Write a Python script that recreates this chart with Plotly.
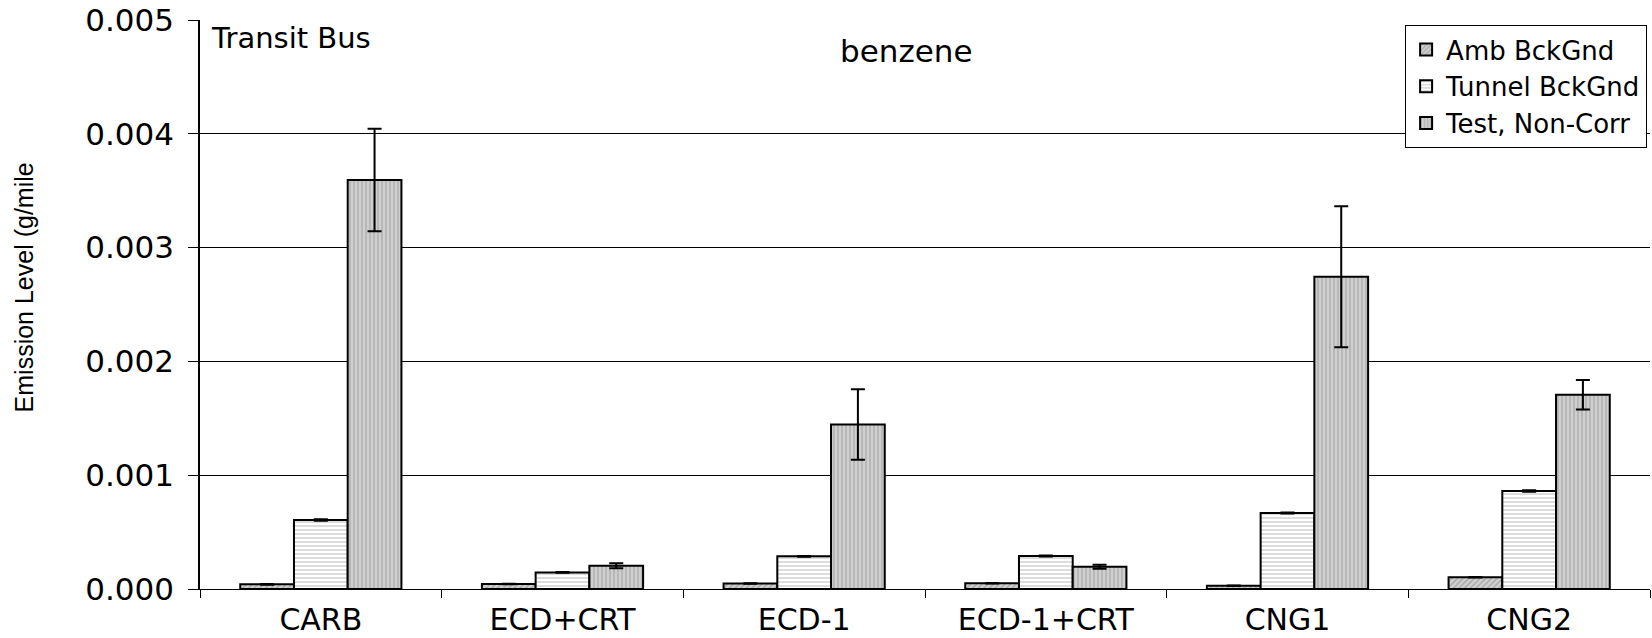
import plotly.graph_objects as go

categories = ["CARB", "ECD+CRT", "ECD-1", "ECD-1+CRT", "CNG1", "CNG2"]
amb_bckgnd = [0.000041, 0.000044, 0.000048, 0.000050, 0.000028, 0.000103]
amb_err = [0.000003, 0.000002, 0.000002, 0.000002, 0.000002, 0.000003]
tunnel_bckgnd = [0.000606, 0.000146, 0.000287, 0.000290, 0.000668, 0.000861]
tunnel_err = [0.000006, 0.000003, 0.000004, 0.000004, 0.000004, 0.000006]
test_noncorr = [0.003594, 0.000205, 0.001445, 0.000196, 0.002744, 0.001707]
test_err = [0.00045, 0.000022, 0.00031, 0.000017, 0.00062, 0.00013]

series_names = ["Amb BckGnd", "Tunnel BckGnd", "Test, Non-Corr"]

FONT = "DejaVu Sans, Liberation Sans, sans-serif"
NARROW = "Liberation Sans, Arial, sans-serif"

fig = go.Figure()

styles = [
    dict(shape="/", fg="#7a7a7a", bg="#d0d0d0", size=4, solidity=0.35),
    dict(shape="-", fg="#8a8a8a", bg="#ffffff", size=4, solidity=0.3),
    dict(shape="|", fg="#8c8c8c", bg="#cfcfcf", size=4, solidity=0.35),
]
values = [amb_bckgnd, tunnel_bckgnd, test_noncorr]
errors = [amb_err, tunnel_err, test_err]

for name, vals, errs, st in zip(series_names, values, errors, styles):
    fig.add_trace(go.Bar(
        name=name,
        x=categories,
        y=vals,
        error_y=dict(type="data", array=errs, visible=True,
                     color="black", thickness=2, width=7),
        marker=dict(
            color=st["bg"],
            line=dict(color="black", width=2),
            pattern=dict(shape=st["shape"], fgcolor=st["fg"], bgcolor=st["bg"],
                         size=st["size"], solidity=st["solidity"],
                         fillmode="overlay"),
        ),
    ))

fig.update_layout(
    width=1652, height=638,
    margin=dict(l=200, r=2, t=20, b=49),
    paper_bgcolor="white", plot_bgcolor="white",
    barmode="group", bargap=0.333, bargroupgap=0,
    font=dict(family=FONT, size=28, color="black"),
    showlegend=True,
    legend=dict(
        x=0.998, y=0.991, xanchor="right", yanchor="top",
        bgcolor="white", bordercolor="black", borderwidth=1,
        font=dict(size=26, family=FONT), tracegroupgap=0,
        itemwidth=30,
    ),
    xaxis=dict(
        type="category", tickson="boundaries", ticks="outside", ticklen=8,
        tickcolor="black", tickwidth=1, showgrid=False,
        showline=True, linecolor="black", linewidth=1,
        tickfont=dict(size=30, family=FONT), ticklabelstandoff=4,
    ),
    yaxis=dict(
        range=[0, 0.005], tickvals=[0, 0.001, 0.002, 0.003, 0.004, 0.005],
        tickformat=".3f", ticks="outside", ticklen=10, tickcolor="black",
        showgrid=True, gridcolor="black", gridwidth=1,
        showline=True, linecolor="black", linewidth=1.5,
        zeroline=False, tickfont=dict(size=31, family=FONT),
        ticklabelstandoff=8,
    ),
    annotations=[
        dict(text="Transit Bus", xref="paper", yref="paper", x=0.006, y=0.968,
             xanchor="left", yanchor="middle", showarrow=False,
             font=dict(size=29, family=FONT)),
        dict(text="benzene", xref="paper", yref="paper", x=0.487, y=0.9455,
             xanchor="center", yanchor="middle", showarrow=False,
             font=dict(size=31, family=FONT)),
        dict(text="Emission Level (g/mile", xref="paper", yref="paper",
             x=-0.1214, y=0.53, xanchor="center", yanchor="middle",
             textangle=-90, showarrow=False, font=dict(size=25, family=NARROW)),
    ],
)

fig.write_html("out.html")
